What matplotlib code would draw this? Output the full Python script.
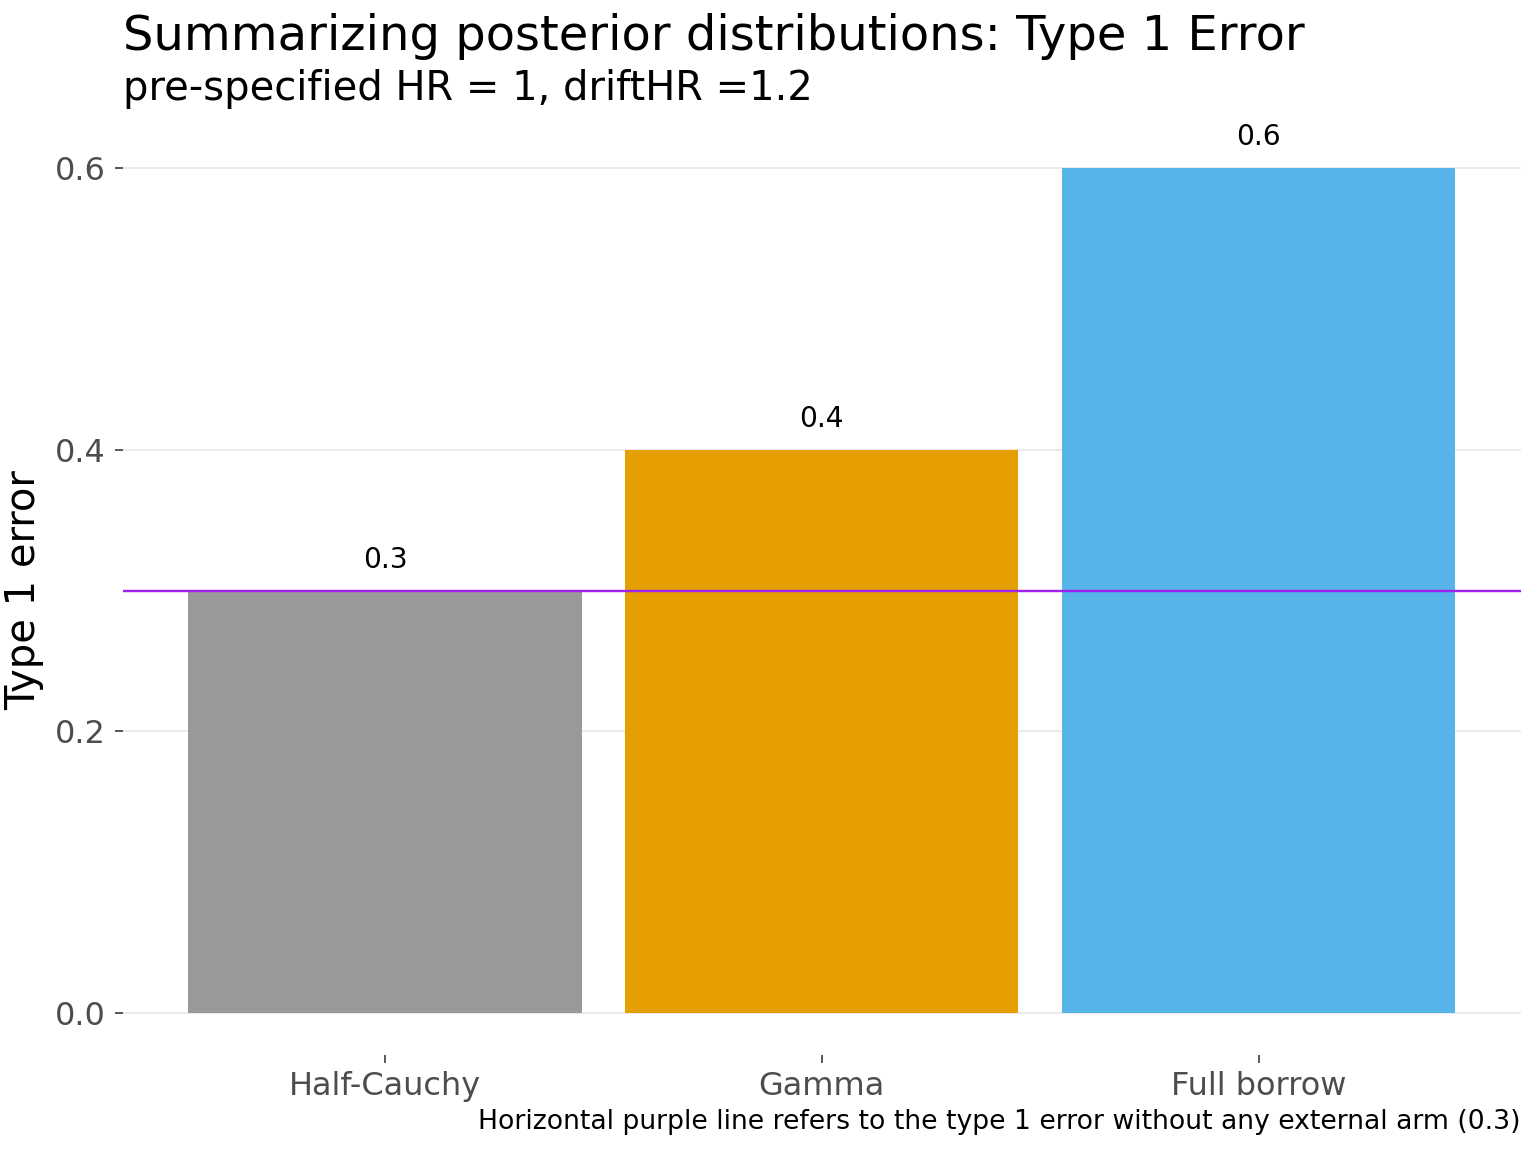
import numpy as np
import matplotlib.pyplot as plt

# data
methods = ["Half-Cauchy", "Gamma", "Full borrow"]
type1 = [0.3, 0.4, 0.6]
colors = ["#999999", "#E69F00", "#56B4E9"]
no_ext = 0.3

fig = plt.figure(figsize=(8, 6), dpi=192)
ax = fig.add_axes([0.080, 0.0842, 0.910, 0.8064])

x = np.arange(1, len(methods) + 1)
ax.bar(x, type1, width=0.9, color=colors, zorder=2)
for xi, v in zip(x, type1):
    ax.text(xi, v + 0.012, f"{v:g}", ha="center", va="bottom", fontsize=10.5)
ax.axhline(no_ext, color="#A020F0", lw=0.9, zorder=3)

ax.set_xlim(0.4, 3.6)
ax.set_ylim(-0.03, 0.63)
ax.set_xticks(x)
ax.set_xticklabels(methods, fontsize=12, color="#4D4D4D")
ax.set_yticks([0.0, 0.2, 0.4, 0.6])
ax.set_yticklabels(["0.0", "0.2", "0.4", "0.6"], fontsize=12, color="#4D4D4D")
ax.tick_params(axis="both", length=3, color="#333333", width=0.6)
ax.tick_params(axis="x", pad=3)
ax.grid(axis="y", color="#E5E5E5", lw=0.6, zorder=0)
for s in ax.spines.values():
    s.set_visible(False)
ax.set_ylabel("Type 1 error", fontsize=15, labelpad=4)

fig.text(0.080, 0.948, "Summarizing posterior distributions: Type 1 Error", fontsize=18, va="bottom")
fig.text(0.080, 0.905, "pre-specified HR = 1, driftHR =1.2", fontsize=15, va="bottom")
fig.text(0.990, 0.015, "Horizontal purple line refers to the type 1 error without any external arm (0.3)",
         fontsize=10, ha="right", va="bottom")

fig.savefig("out.png")
